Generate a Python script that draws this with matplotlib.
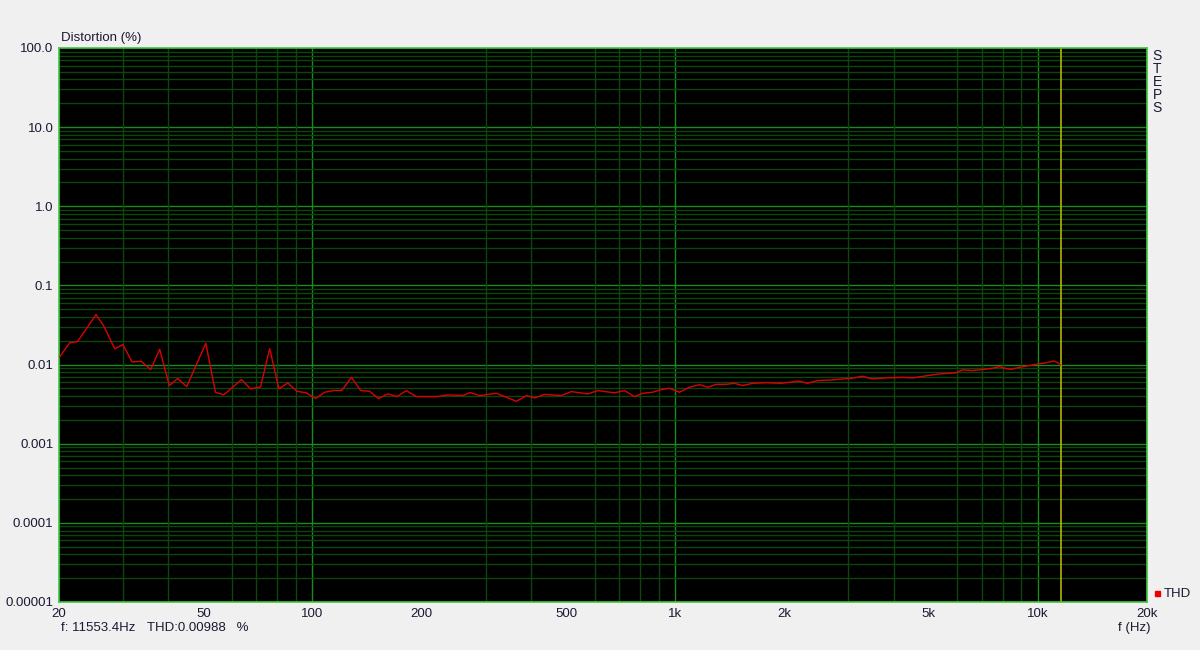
import numpy as np
import matplotlib.pyplot as plt
from matplotlib.ticker import FixedLocator, NullFormatter

plt.rcParams["font.family"] = ["Liberation Sans", "DejaVu Sans"]

# THD curve (Hz, %)
freq = [20.1, 21.4, 22.5, 25.3, 26.6, 28.5, 30.0, 31.8, 33.7, 35.8, 37.9, 40.3,
        42.5, 45.0, 50.8, 54.0, 56.9, 63.7, 67.5, 71.9, 76.2, 80.8, 85.5, 90.5,
        96.2, 102, 108, 114, 120.6, 128, 135.8, 143.8, 152, 161.5, 171, 181.5,
        193.4, 222, 236, 260, 272, 289, 321, 365, 389, 410, 436, 485, 517, 574,
        612, 680, 725, 772, 814, 867, 915, 964, 1027, 1095, 1167, 1230, 1297,
        1380, 1457, 1535, 1636, 1781, 1959, 2066, 2177, 2318, 2471, 2717, 2895,
        3053, 3286, 3501, 3811, 4236, 4514, 4914, 5346, 5943, 6197, 6603, 7036,
        7498, 7823, 8100, 8421, 8974, 9446, 10060, 10495, 11070, 11300, 11553]
thd = [0.0126, 0.0188, 0.0195, 0.0428, 0.0305, 0.0158, 0.0179, 0.0108, 0.0110,
       0.00865, 0.0156, 0.00543, 0.00665, 0.00527, 0.0186, 0.00447, 0.00414,
       0.00646, 0.00493, 0.00522, 0.0159, 0.00493, 0.00587, 0.00460, 0.00439,
       0.00372, 0.00447, 0.00469, 0.00473, 0.00691, 0.00469, 0.00460, 0.00372,
       0.00426, 0.00394, 0.00469, 0.00394, 0.00394, 0.00414, 0.00405, 0.00443,
       0.00405, 0.00434, 0.00344, 0.00405, 0.00379, 0.00420, 0.00405, 0.00456,
       0.00426, 0.00469, 0.00440, 0.00469, 0.00394, 0.00434, 0.00447, 0.00483,
       0.00502, 0.00447, 0.00516, 0.00558, 0.00516, 0.00563, 0.00563, 0.00580,
       0.00543, 0.00580, 0.00590, 0.00580, 0.00597, 0.00620, 0.00580, 0.00628,
       0.00640, 0.00659, 0.00670, 0.00711, 0.00659, 0.00679, 0.00690, 0.00679,
       0.00720, 0.00762, 0.00786, 0.00857, 0.00840, 0.00865, 0.00898, 0.00940,
       0.00898, 0.00870, 0.00930, 0.00970, 0.01020, 0.01050, 0.01110, 0.01070,
       0.00988]

cursor_f = 11553.4
cursor_thd = 0.00988

xticks = [20, 50, 100, 200, 500, 1000, 2000, 5000, 10000, 20000]
xticklabels = ["20", "50", "100", "200", "500", "1k", "2k", "5k", "10k", "20k"]
yticks = [1e-5, 1e-4, 1e-3, 1e-2, 1e-1, 1, 10, 100]
yticklabels = ["0.00001", "0.0001", "0.001", "0.01", "0.1", "1.0", "10.0", "100.0"]

bg = "#f0f0f0"
major_c = "#1a8a1a"
minor_c = "#0d460d"
txt_c = "#1a1a33"

fig = plt.figure(figsize=(12, 6.5), dpi=100, facecolor=bg)
ax = fig.add_axes([59 / 1200, 48 / 650, 1088 / 1200, 554 / 650])
ax.set_facecolor("black")
ax.set_xscale("log")
ax.set_yscale("log")
ax.set_xlim(20, 20000)
ax.set_ylim(1e-5, 100)

# grid: dark minor lines, brighter decade lines
minor_x = [m * 10 ** e for e in range(1, 5) for m in range(2, 10)
           if 20 < m * 10 ** e < 20000]
minor_y = [m * 10.0 ** e for e in range(-5, 2) for m in range(2, 10)]
ax.xaxis.set_minor_locator(FixedLocator(minor_x))
ax.yaxis.set_minor_locator(FixedLocator(minor_y))
ax.xaxis.set_minor_formatter(NullFormatter())
ax.yaxis.set_minor_formatter(NullFormatter())
ax.grid(which="minor", color=minor_c, lw=1.0)
for v in [100, 1000, 10000]:
    ax.axvline(v, color=major_c, lw=1.0, zorder=1)
for v in yticks[1:-1]:
    ax.axhline(v, color=major_c, lw=1.0, zorder=1)

ax.set_xticks(xticks)
ax.set_xticklabels(xticklabels)
ax.set_yticks(yticks)
ax.set_yticklabels(yticklabels)
ax.tick_params(which="both", length=0, labelsize=9.5, colors=txt_c, pad=4)
for s in ax.spines.values():
    s.set_color("#3cc83c")
    s.set_linewidth(1.2)

# curve and cursor
ax.plot(freq, thd, color="#dd0000", lw=1.0, zorder=3)
ax.axvline(cursor_f, color="#b4b400", lw=1.2, zorder=2)

fs = 9.5
fig.text(61 / 1200, 1 - 38 / 650, "Distortion (%)", fontsize=fs, color=txt_c,
         va="center", ha="left")
fig.text(1150 / 1200, 1 - 628 / 650, "f (Hz)", fontsize=fs, color=txt_c,
         va="center", ha="right")
fig.text(61 / 1200, 1 - 628 / 650, "f: %.1fHz" % cursor_f, fontsize=fs,
         color=txt_c, va="center", ha="left")
fig.text(147 / 1200, 1 - 628 / 650, "THD:%.5f   %%" % cursor_thd, fontsize=fs,
         color=txt_c, va="center", ha="left")
for i, ch in enumerate("STEPS"):
    fig.text(1157 / 1200, 1 - (56 + i * 13) / 650, ch, fontsize=10,
             color=txt_c, va="center", ha="center")
fig.patches.append(plt.Rectangle((1155 / 1200, 1 - 596 / 650), 5 / 1200, 5 / 650,
                                 transform=fig.transFigure, color="#ee0000"))
fig.text(1164 / 1200, 1 - 594 / 650, "THD", fontsize=fs, color=txt_c,
         va="center", ha="left")

fig.savefig("out.png", dpi=100, facecolor=bg)
